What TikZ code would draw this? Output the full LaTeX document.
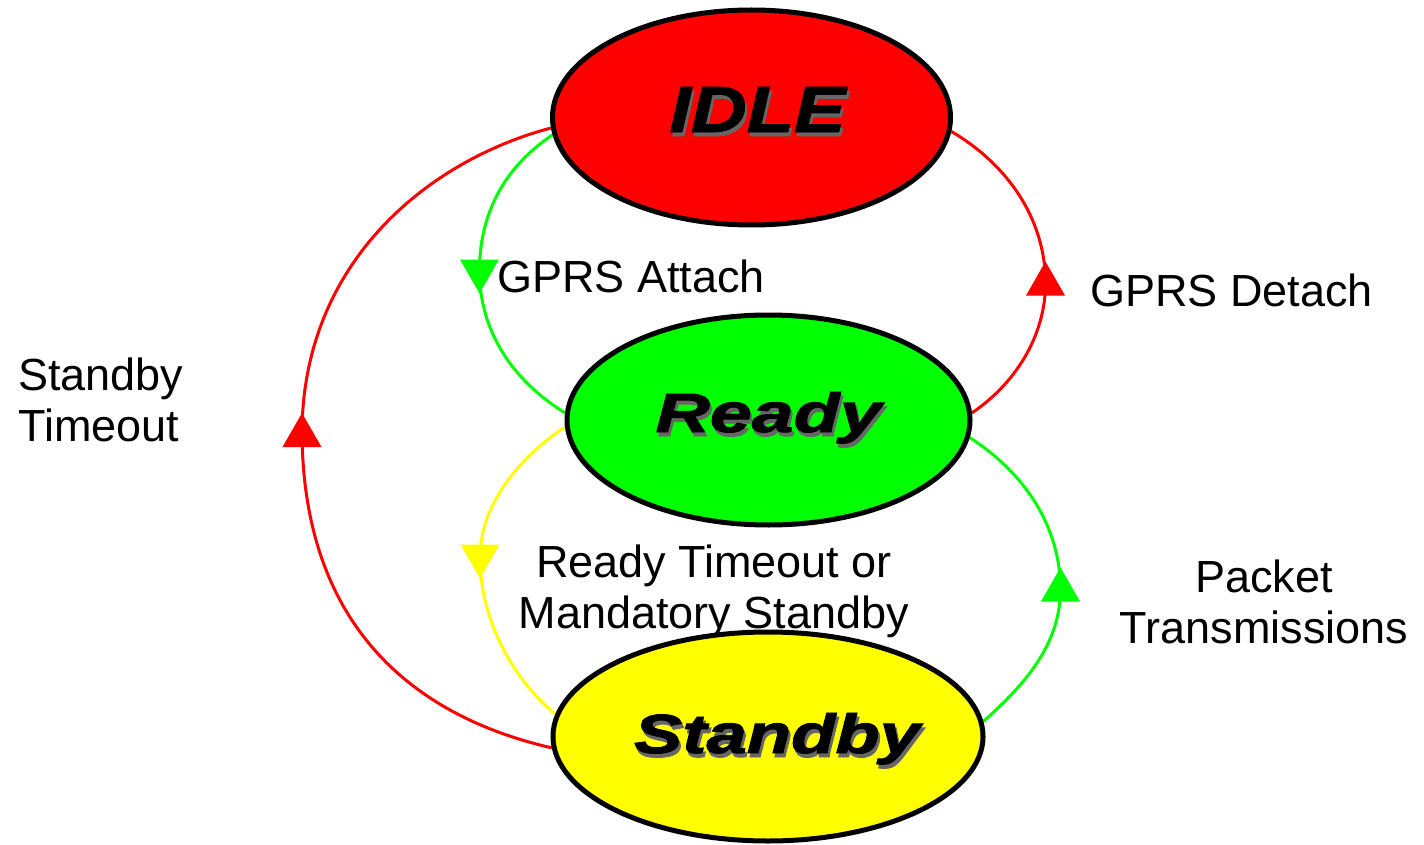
\documentclass[tikz,border=0pt]{standalone}
\usepackage{fontspec}
\setmainfont{Liberation Sans}
\newfontfamily\statefont{Liberation Sans}[BoldItalicFeatures={FakeBold=1.5}]
\usetikzlibrary{shapes.geometric,backgrounds}

\definecolor{idlered}{HTML}{FF0000}
\definecolor{readygreen}{HTML}{00FF00}
\definecolor{standbyyellow}{HTML}{FFFF00}
\definecolor{shadowgray}{HTML}{666666}

% state name: width, height, drop of the baseline below the centre, extra left space, text
\newcommand\statetext[5]{%
  \hspace*{#4}\raisebox{-#3}[0pt][0pt]{%
    \rlap{\kern2pt\raisebox{-4pt}{\color{shadowgray}\resizebox{#1}{#2}{\statefont\bfseries\itshape #5}}}%
    \resizebox{#1}{#2}{\statefont\bfseries\itshape #5}}}
% two-line labels, baseline at the first line
\newcommand\linesleft[2]{\vtop{\baselineskip=51pt\halign{##\hfil\cr#1\cr#2\cr}}}
\newcommand\linescentre[2]{\vtop{\baselineskip=51pt\halign{\hfil##\hfil\cr#1\cr#2\cr}}}

\tikzset{
  state/.style={ellipse, draw=black, line width=5pt, inner sep=0pt},
  lbl/.style={font=\fontsize{45pt}{51pt}\selectfont, inner sep=0pt},
  link/.style={line width=3pt},
  uparrow/.pic={\fill (0,-17) -- (19.5,17) -- (-19.5,17) -- cycle;},
  downarrow/.pic={\fill (0,17) -- (19.5,-17) -- (-19.5,-17) -- cycle;},
}

\begin{document}
\begin{tikzpicture}[x=1pt, y=-1pt]
\useasboundingbox (0,0) rectangle (1424,845);

% states
\node[state, fill=idlered, minimum width=398pt, minimum height=215pt] (idle) at (751.5,117.5)
  {\statetext{176pt}{45pt}{14.5pt}{12pt}{IDLE}};
\node[state, fill=readygreen, minimum width=403pt, minimum height=210pt] (ready) at (768.5,420)
  {\statetext{226pt}{40pt}{12pt}{0pt}{Ready}};
\node[state, fill=standbyyellow, minimum width=405pt, minimum height=209pt] (standby) at (768,736.5)
  {\statetext{286pt}{40pt}{16.5pt}{18pt}{Standby}};

% arrowhead positions
\coordinate (mTimeout) at (302,430);
\coordinate (mAttach) at (479.5,276.5);
\coordinate (mDetach) at (1045.5,278.5);
\coordinate (mReady) at (480,561.5);
\coordinate (mPacket) at (1060.5,584.5);

% transitions
\begin{pgfonlayer}{background}
\draw[link, idlered] (standby.183) .. controls (430,720) and (302,640) .. (mTimeout)
  .. controls (304,260) and (430,160) .. (idle.183);
\draw[link, readygreen] (idle.185) .. controls (500,170) and (478,220) .. (mAttach)
  .. controls (482,340) and (520,385) .. (ready.178);
\draw[link, idlered] (ready.2) .. controls (1020,380) and (1047,330) .. (mDetach)
  .. controls (1043,210) and (1000,160) .. (idle.356);
\draw[link, standbyyellow] (ready.182) .. controls (515,460) and (478,510) .. (mReady)
  .. controls (482,630) and (520,685) .. (standby.174);
\draw[link, readygreen] (standby.4) .. controls (1030,680) and (1062,640) .. (mPacket)
  .. controls (1058,520) and (1020,470) .. (ready.355);
\end{pgfonlayer}

\pic[idlered] at (mTimeout) {uparrow};
\pic[readygreen] at (mAttach) {downarrow};
\pic[idlered] at (mDetach) {uparrow};
\pic[standbyyellow] at (mReady) {downarrow};
\pic[readygreen] at (mPacket) {uparrow};

% labels
\node[lbl, anchor=base west] (tTimeout) at (18,390) {\linesleft{Standby}{Timeout}};
\node[lbl, anchor=base west] (tAttach) at (497,292) {GPRS Attach};
\node[lbl, anchor=base west] (tDetach) at (1090,306) {GPRS Detach};
\node[lbl, anchor=base] (tReady) at (714,577) {\linescentre{Ready Timeout or}{Mandatory Standby}};
\node[lbl, anchor=base] (tPacket) at (1264,592) {\linescentre{Packet}{Transmissions}};
\end{tikzpicture}
\end{document}
